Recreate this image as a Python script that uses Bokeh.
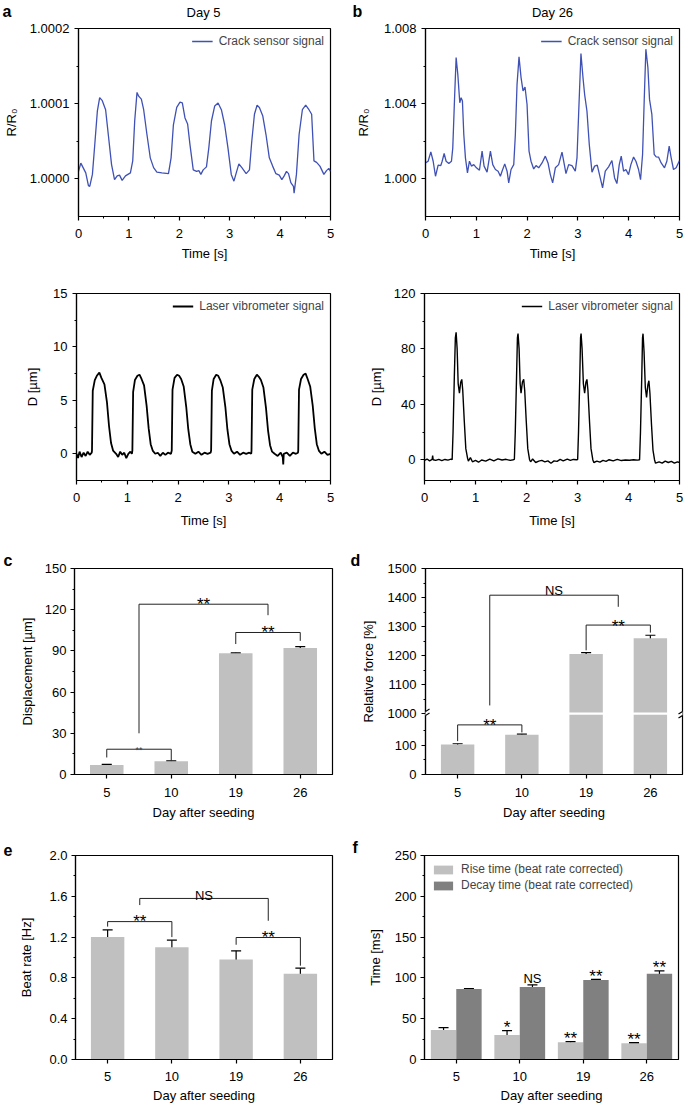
from bokeh.plotting import figure
from bokeh.layouts import column, row
from bokeh.models import (Range1d, FixedTicker, NumeralTickFormatter, Legend, LegendItem,
                          Label, Whisker, TeeHead, ColumnDataSource, Arrow)
from bokeh.embed import file_html
from bokeh.resources import INLINE

FONT = "Liberation Sans"
BLUE = "#3f51b5"
LIGHT = "#c0c0c0"
DARK = "#808080"

# ---------------- data ----------------
# (time [s], R/R0) crack sensor, day 5
a_crack = [
    (0.000, 1.000010), (0.046, 1.000021), (0.144, 1.000008), (0.197, 0.999991), (0.223, 0.999990),
    (0.276, 1.000006), (0.328, 1.000050), (0.374, 1.000090), (0.420, 1.000108), (0.472, 1.000104),
    (0.538, 1.000092), (0.591, 1.000059), (0.656, 1.000019), (0.715, 0.999999), (0.768, 1.000004),
    (0.814, 1.000005), (0.866, 0.999998), (0.932, 1.000004), (1.030, 1.000008), (1.076, 1.000024),
    (1.115, 1.000077), (1.161, 1.000115), (1.194, 1.000110), (1.247, 1.000106), (1.293, 1.000092),
    (1.358, 1.000059), (1.424, 1.000028), (1.490, 1.000015), (1.555, 1.000009), (1.654, 1.000008),
    (1.785, 1.000007), (1.837, 1.000028), (1.883, 1.000072), (1.949, 1.000095), (2.014, 1.000102),
    (2.060, 1.000101), (2.113, 1.000081), (2.165, 1.000073), (2.211, 1.000046), (2.277, 1.000012),
    (2.343, 1.000010), (2.388, 1.000011), (2.428, 1.000006), (2.474, 1.000012), (2.539, 1.000016),
    (2.585, 1.000041), (2.638, 1.000077), (2.703, 1.000097), (2.769, 1.000101), (2.835, 1.000092),
    (2.900, 1.000072), (2.966, 1.000041), (3.031, 1.000006), (3.084, 0.999997), (3.130, 1.000008),
    (3.182, 1.000020), (3.241, 1.000015), (3.327, 1.000007), (3.392, 1.000012), (3.438, 1.000050),
    (3.491, 1.000086), (3.543, 1.000098), (3.589, 1.000095), (3.655, 1.000084), (3.720, 1.000059),
    (3.786, 1.000028), (3.852, 1.000017), (3.917, 1.000007), (3.983, 1.000005), (4.035, 0.999999),
    (4.081, 1.000004), (4.127, 1.000010), (4.167, 1.000007), (4.213, 0.999995), (4.265, 0.999990),
    (4.278, 0.999981), (4.324, 1.000006), (4.377, 1.000059), (4.442, 1.000092), (4.508, 1.000098),
    (4.573, 1.000092), (4.626, 1.000086), (4.672, 1.000024), (4.724, 1.000022), (4.790, 1.000017),
    (4.869, 1.000006), (4.921, 1.000011), (4.967, 1.000014), (5.000, 1.000010)]

# (time [s], R/R0) crack sensor, day 26
b_crack = [
    (0.000, 1.00085), (0.052, 1.00094), (0.105, 1.00144), (0.151, 1.00094), (0.197, 1.00014),
    (0.249, 1.00073), (0.301, 1.00071), (0.328, 1.00094), (0.367, 1.00135), (0.406, 1.00094),
    (0.459, 1.00082), (0.511, 1.00094), (0.537, 1.00165), (0.570, 1.00414), (0.603, 1.00645),
    (0.636, 1.00556), (0.675, 1.00405), (0.701, 1.00432), (0.727, 1.00414), (0.754, 1.00236),
    (0.786, 1.00112), (0.826, 1.00032), (0.865, 1.00094), (0.904, 1.00068), (0.950, 1.00076),
    (1.003, 1.00059), (1.062, 1.00046), (1.114, 1.00148), (1.153, 1.00068), (1.212, 1.00036),
    (1.278, 1.00148), (1.324, 1.00076), (1.376, 1.00050), (1.429, 1.00041), (1.474, 1.00014),
    (1.507, 1.00041), (1.560, 1.00080), (1.606, 1.00041), (1.638, 0.99979), (1.684, 1.00050),
    (1.737, 1.00076), (1.769, 1.00236), (1.802, 1.00503), (1.841, 1.00649), (1.881, 1.00539),
    (1.920, 1.00468), (1.959, 1.00489), (1.999, 1.00396), (2.038, 1.00148), (2.077, 1.00094),
    (2.130, 1.00053), (2.176, 1.00071), (2.228, 1.00059), (2.294, 1.00085), (2.359, 1.00121),
    (2.412, 1.00085), (2.457, 1.00023), (2.503, 0.99979), (2.556, 1.00059), (2.621, 1.00076),
    (2.687, 1.00142), (2.733, 1.00076), (2.765, 1.00028), (2.818, 1.00076), (2.883, 1.00071),
    (2.949, 1.00041), (2.982, 1.00112), (3.014, 1.00343), (3.060, 1.00667), (3.100, 1.00539),
    (3.132, 1.00450), (3.178, 1.00361), (3.224, 1.00183), (3.277, 1.00036), (3.329, 1.00068),
    (3.381, 1.00073), (3.440, 1.00005), (3.486, 0.99952), (3.539, 1.00041), (3.604, 1.00064),
    (3.670, 1.00098), (3.722, 1.00005), (3.768, 0.99975), (3.814, 1.00076), (3.853, 1.00121),
    (3.899, 1.00041), (3.945, 1.00050), (3.997, 1.00023), (4.043, 1.00076), (4.096, 1.00116),
    (4.142, 1.00094), (4.194, 1.00050), (4.233, 0.99996), (4.273, 1.00130), (4.305, 1.00414),
    (4.338, 1.00690), (4.378, 1.00592), (4.410, 1.00423), (4.456, 1.00343), (4.502, 1.00130),
    (4.541, 1.00117), (4.587, 1.00116), (4.639, 1.00085), (4.705, 1.00059), (4.751, 1.00094),
    (4.797, 1.00174), (4.836, 1.00112), (4.882, 1.00050), (4.934, 1.00059), (5.000, 1.00098)]

# (time [s], D [um]) laser vibrometer, day 5
a_laser = [
    (0.00, 0.0), (0.03, -0.4), (0.06, 0.2), (0.10, -0.3), (0.14, 0.1), (0.18, -0.2), (0.22, 0.2),
    (0.26, -0.1), (0.30, 0.1), (0.305, 0.3), (0.32, 5.9), (0.36, 6.9), (0.40, 7.3), (0.45, 7.6),
    (0.49, 7.1), (0.55, 6.5), (0.60, 4.8), (0.64, 2.6), (0.68, 1.0), (0.72, 0.3), (0.78, 0.0),
    (0.82, -0.3), (0.86, 0.2), (0.90, -0.1), (0.94, 0.1), (0.98, -0.4), (1.02, 0.0), (1.06, 0.2),
    (1.09, 0.0), (1.10, 0.3), (1.115, 5.8), (1.15, 6.9), (1.20, 7.3), (1.24, 7.4), (1.28, 7.0),
    (1.33, 6.4), (1.38, 4.5), (1.42, 2.4), (1.46, 0.9), (1.50, 0.3), (1.55, 0.0), (1.60, 0.1),
    (1.65, -0.2), (1.70, 0.1), (1.75, -0.1), (1.80, 0.1), (1.86, 0.0), (1.875, 0.3), (1.89, 6.0),
    (1.93, 7.1), (1.98, 7.4), (2.02, 7.3), (2.06, 7.0), (2.11, 6.3), (2.16, 4.4), (2.20, 2.3),
    (2.24, 0.9), (2.28, 0.2), (2.34, 0.0), (2.40, 0.2), (2.46, -0.1), (2.52, 0.1), (2.58, 0.0),
    (2.64, 0.1), (2.65, 0.3), (2.665, 5.9), (2.70, 7.0), (2.75, 7.4), (2.79, 7.3), (2.83, 6.9),
    (2.88, 6.2), (2.93, 4.4), (2.97, 2.3), (3.01, 0.9), (3.05, 0.3), (3.10, 0.0), (3.16, 0.2),
    (3.22, -0.1), (3.28, 0.1), (3.34, 0.0), (3.40, 0.1), (3.44, 0.0), (3.445, 0.3), (3.46, 6.0),
    (3.50, 7.0), (3.55, 7.4), (3.59, 7.2), (3.63, 6.9), (3.68, 6.2), (3.73, 4.3), (3.77, 2.2),
    (3.81, 0.8), (3.85, 0.2), (3.90, 0.0), (3.96, -0.2), (4.02, 0.1), (4.06, -0.3), (4.07, -1.0),
    (4.08, 0.0), (4.14, 0.1), (4.20, -0.2), (4.26, 0.1), (4.32, 0.0), (4.36, 0.1), (4.365, 0.3),
    (4.38, 6.0), (4.42, 7.0), (4.47, 7.4), (4.51, 7.5), (4.55, 7.0), (4.60, 6.3), (4.65, 4.5),
    (4.69, 2.4), (4.73, 0.9), (4.77, 0.3), (4.82, 0.0), (4.88, 0.2), (4.94, -0.1), (5.00, 0.0)]

# (time [s], D [um]) laser vibrometer, day 26
b_laser = [
    (0.00, -0.5), (0.05, 0.5), (0.10, -0.8), (0.15, 0.2), (0.16, 3.0), (0.17, 0.0), (0.22, -0.5),
    (0.28, 0.3), (0.34, -0.6), (0.40, 0.2), (0.46, -0.3), (0.52, 0.4), (0.542, 0.0),
    (0.56, 20), (0.585, 60), (0.605, 88), (0.62, 92), (0.64, 80), (0.66, 55), (0.685, 48),
    (0.71, 56), (0.731, 58), (0.75, 50), (0.78, 28), (0.81, 8), (0.845, 1), (0.86, -1),
    (0.90, 1.5), (0.94, -1.5), (1.00, -0.5), (1.06, -1.8), (1.12, -0.2), (1.20, -1.0), (1.28, 0.5),
    (1.36, -0.8), (1.44, 0.6), (1.52, -0.2), (1.60, 0.3), (1.68, -0.5), (1.74, 0.0), (1.762, 0.2),
    (1.78, 20), (1.805, 60), (1.822, 88), (1.834, 91), (1.855, 80), (1.875, 55), (1.893, 48),
    (1.92, 56), (1.945, 58), (1.965, 50), (1.995, 28), (2.025, 8), (2.06, 0), (2.08, -1.5),
    (2.12, 0.5), (2.18, -2.0), (2.24, -1.0), (2.30, -0.5), (2.36, -1.5), (2.42, -0.8), (2.48, -2.5),
    (2.54, -0.8), (2.60, -1.2), (2.66, 0.2), (2.72, -0.8), (2.80, 0.5), (2.86, -0.5), (2.92, 0.2),
    (2.98, 0.0), (3.003, 0.2), (3.02, 20), (3.045, 60), (3.06, 88), (3.07, 91), (3.09, 80),
    (3.115, 55), (3.14, 48), (3.165, 56), (3.185, 58), (3.205, 50), (3.235, 28), (3.265, 8),
    (3.30, 0), (3.32, -2.0), (3.38, -1.0), (3.44, -1.8), (3.50, -0.5), (3.56, -1.2), (3.62, 0.0),
    (3.70, -0.8), (3.78, 0.3), (3.86, -0.6), (3.94, -0.2), (4.02, -0.4), (4.10, 0.0), (4.18, -0.3),
    (4.217, 0.0), (4.235, 20), (4.26, 60), (4.275, 88), (4.285, 91), (4.305, 78), (4.33, 52),
    (4.354, 45), (4.38, 54), (4.40, 57), (4.42, 48), (4.45, 26), (4.48, 7), (4.51, 0), (4.53, -2.5),
    (4.60, -1.5), (4.66, -2.5), (4.72, -1.0), (4.78, -2.0), (4.84, -1.2), (4.90, -2.5),
    (4.96, -1.5), (5.00, -2.0)]

days = ["5", "10", "19", "26"]
disp = [7.0, 9.6, 88.3, 92.2]
disp_err = [0.4, 0.4, 0.3, 0.9]
force = [103, 137, 1205, 1260]
force_err = [3, 2, 5, 10]
beat = [1.20, 1.10, 0.98, 0.84]
beat_err = [0.07, 0.07, 0.085, 0.055]
rise = [36, 30, 21, 20]
rise_err = [3, 5.5, 1.0, 0.6]
decay = [86.3, 88.7, 97.5, 105.0]
decay_err = [0.6, 2.8, 0.8, 3.5]

# significance brackets: (xs in category index, ys in data, text)
c_brackets = [([1, 1, 2, 2], [12.4, 18.4, 18.4, 10.5], "**"),
              ([1.5, 1.5, 3.5, 3.5], [30, 124, 124, 116], "**"),
              ([3, 3, 4, 4], [95, 103.4, 103.4, 97.3], "**")]
d_brackets = [([1, 1, 2, 2], [115, 171, 171, 145], "**"),
              ([1.5, 1.5, 3.5, 3.5], [1028, 1408, 1408, 1368], "NS"),
              ([3, 3, 4, 4], [1218, 1305, 1305, 1279], "**")]
e_brackets = [([1, 1, 2, 2], [1.303, 1.352, 1.352, 1.20], "**"),
              ([1.5, 1.5, 3.5, 3.5], [1.514, 1.579, 1.579, 1.36], "NS"),
              ([3, 3, 4, 4], [1.125, 1.196, 1.196, 0.92], "**")]
# marks above bars of panel f: (category index, series, text)
f_marks = [(2, "rise", "*"), (2, "decay", "NS"), (3, "rise", "**"), (3, "decay", "**"),
           (4, "rise", "**"), (4, "decay", "**")]

xpos = list(range(1, len(days) + 1))


def make_fig(w, h, bl, br, bt, bb, xr, yr):
    p = figure(width=w, height=h, x_range=Range1d(*xr), y_range=Range1d(*yr),
               output_backend="svg", toolbar_location=None,
               min_border_left=bl, min_border_right=br, min_border_top=bt, min_border_bottom=bb)
    p.xgrid.visible = False
    p.ygrid.visible = False
    p.outline_line_color = "black"
    p.outline_line_width = 1.2
    p.outline_line_alpha = 1.0
    p.background_fill_color = "white"
    p.border_fill_color = "white"
    for ax in (p.xaxis[0], p.yaxis[0]):
        ax.axis_line_color = "black"
        ax.axis_line_width = 1.2
        ax.major_tick_line_color = "black"
        ax.major_tick_line_width = 1.2
        ax.minor_tick_line_color = "black"
        ax.minor_tick_line_width = 1
        ax.major_tick_in = 0
        ax.major_tick_out = 4
        ax.minor_tick_in = 0
        ax.minor_tick_out = 2
        ax.major_label_text_font = FONT
        ax.major_label_text_font_size = "13px"
        ax.major_label_text_color = "black"
        ax.axis_label_text_font = FONT
        ax.axis_label_text_font_size = "13px"
        ax.axis_label_text_font_style = "normal"
        ax.axis_label_text_color = "black"
    return p


def header(w, h, letter_text, letter_x, day_text, day_x):
    # a strip with no axes and no title above the top panels: panel letter and day title
    p = figure(width=w, height=h, x_range=Range1d(0, w), y_range=Range1d(0, h), title=None,
               output_backend="svg", toolbar_location=None, x_axis_type=None, y_axis_type=None,
               min_border=0, min_border_left=0, min_border_right=0, min_border_top=0,
               min_border_bottom=0)
    p.outline_line_color = None
    p.background_fill_color = "white"
    p.border_fill_color = "white"
    p.add_layout(Label(x=letter_x, y=h - 11, text=letter_text, text_font=FONT, text_font_size="16px",
                       text_font_style="bold", text_align="left", text_baseline="alphabetic",
                       text_color="black"))
    p.add_layout(Label(x=day_x, y=h - 12, text=day_text, text_font=FONT, text_font_size="13px",
                       text_align="center", text_baseline="alphabetic", text_color="black"))
    return p


def set_axis(ax, label, ticks, minor, standoff, label_standoff, fmt=None, overrides=None):
    ax.axis_label = label
    ax.ticker = FixedTicker(ticks=ticks, minor_ticks=minor)
    ax.major_label_standoff = standoff
    ax.axis_label_standoff = label_standoff
    if fmt is not None:
        ax.formatter = NumeralTickFormatter(format=fmt)
    if overrides is not None:
        ax.major_label_overrides = overrides


def letter_title(p, text, offset):
    t = p.title
    t.text = text
    t.align = "left"
    t.offset = offset
    t.standoff = 0
    t.text_font = FONT
    t.text_font_size = "16px"
    t.text_font_style = "bold"
    t.text_color = "black"


def line_legend(p, r, text):
    leg = Legend(items=[LegendItem(label=text, renderers=[r])], location="top_right",
                 border_line_alpha=0, background_fill_alpha=0, label_text_font=FONT,
                 label_text_font_size="12px", glyph_width=21, glyph_height=12, label_height=12,
                 label_standoff=6, padding=4, margin=2, spacing=0)
    p.add_layout(leg)


def whiskers(p, xs, lows, ups, size=10):
    src = ColumnDataSource(dict(base=xs, lower=lows, upper=ups))
    p.add_layout(Whisker(base="base", lower="lower", upper="upper", source=src,
                         line_color="black", line_width=1.2,
                         upper_head=TeeHead(size=size, line_width=1.2, line_color="black"),
                         lower_head=TeeHead(size=size, line_width=1.2, line_color="black")))


def sig(p, x, y, text, dy=0):
    size = "13px" if text == "NS" else "17px"
    p.add_layout(Label(x=x, y=y, y_offset=dy, text=text, text_font=FONT, text_font_size=size,
                       text_align="center", text_baseline="alphabetic", text_color="black"))


def day_axis(p, standoff, label_standoff):
    set_axis(p.xaxis[0], "Day after seeding", xpos, [], standoff, label_standoff,
             overrides={i: d for i, d in zip(xpos, days)})


TIME_TICKS = [0, 1, 2, 3, 4, 5]
TIME_MINOR = [0.5, 1.5, 2.5, 3.5, 4.5]

# ---------------- headers of the top row ----------------
ha = header(345, 20, "a", 2, "Day 5", 203)
hb = header(340, 20, "b", 7, "Day 26", 207)

# ---------------- panel a (top): crack sensor, day 5 ----------------
pa1 = make_fig(345, 250, 76, 15, 8, 54, (0, 5), (0.99995, 1.0002))
r = pa1.line([t for t, _ in a_crack], [v for _, v in a_crack], line_color=BLUE, line_width=1.3)
set_axis(pa1.xaxis[0], "Time [s]", TIME_TICKS, TIME_MINOR, 8, 5)
set_axis(pa1.yaxis[0], "R/R₀", [1.0, 1.0001, 1.0002], [1.00005, 1.00015], 5, 8, fmt="0.0000")
line_legend(pa1, r, "Crack sensor signal")

# ---------------- panel b (top): crack sensor, day 26 ----------------
pb1 = make_fig(340, 250, 80, 6, 8, 54, (0, 5), (0.998, 1.008))
r = pb1.line([t for t, _ in b_crack], [v for _, v in b_crack], line_color=BLUE, line_width=1.3)
set_axis(pb1.xaxis[0], "Time [s]", TIME_TICKS, TIME_MINOR, 8, 5)
set_axis(pb1.yaxis[0], "R/R₀", [1.0, 1.004, 1.008], [1.002, 1.006], 5, 10, fmt="0.000")
line_legend(pb1, r, "Crack sensor signal")

# ---------------- panel a (bottom): laser, day 5 ----------------
pa2 = make_fig(345, 260, 76, 15, 23, 50, (0, 5), (-2.5, 15))
r = pa2.line([t for t, _ in a_laser], [v for _, v in a_laser], line_color="black", line_width=1.8)
set_axis(pa2.xaxis[0], "Time [s]", TIME_TICKS, TIME_MINOR, 8, 8)
set_axis(pa2.yaxis[0], "D [µm]", [0, 5, 10, 15], [2.5, 7.5, 12.5], 5, 10)
line_legend(pa2, r, "Laser vibrometer signal")

# ---------------- panel b (bottom): laser, day 26 ----------------
pb2 = make_fig(340, 260, 79, 6, 23, 50, (0, 5), (-15, 120))
r = pb2.line([t for t, _ in b_laser], [v for _, v in b_laser], line_color="black", line_width=1.4)
set_axis(pb2.xaxis[0], "Time [s]", TIME_TICKS, TIME_MINOR, 8, 8)
set_axis(pb2.yaxis[0], "D [µm]", [0, 40, 80, 120], [20, 60, 100], 5, 7)
line_legend(pb2, r, "Laser vibrometer signal")

# ---------------- panel c: displacement ----------------
pc = make_fig(345, 300, 74, 13, 38, 56, (0.5, 4.5), (0, 150))
pc.vbar(x=xpos, top=disp, width=0.52, fill_color=LIGHT, line_color=None)
whiskers(pc, xpos, [v - e for v, e in zip(disp, disp_err)], [v + e for v, e in zip(disp, disp_err)])
pc.multi_line([b[0] for b in c_brackets], [b[1] for b in c_brackets], line_color="#222222", line_width=1)
for i, (bx, by, txt) in enumerate(c_brackets):
    if i == 0:
        pc.add_layout(Label(x=(bx[1] + bx[2]) / 2, y=by[1], y_offset=-1, text=txt, text_font=FONT,
                            text_font_size="9px", text_align="center", text_baseline="alphabetic"))
    else:
        sig(pc, (bx[1] + bx[2]) / 2, by[1], txt)
day_axis(pc, 9, 5)
set_axis(pc.yaxis[0], "Displacement [µm]", [0, 30, 60, 90, 120, 150], [15, 45, 75, 105, 135], 4, 7)
letter_title(pc, "c", -71)

# ---------------- panel d: relative force (broken axis) ----------------
BREAK_LO, BREAK_HI = 210, 1000   # lower segment ends at 210, upper segment starts at 1000


def fy(v):
    return v if v <= BREAK_LO + 50 else v - (BREAK_HI - BREAK_LO)


pd = make_fig(340, 300, 80, 3, 38, 56, (0.5, 4.5), (0, fy(1500)))
pd.vbar(x=xpos, top=[fy(v) for v in force], width=0.52, fill_color=LIGHT, line_color=None)
big = [x for x, v in zip(xpos, force) if v > BREAK_HI]
pd.segment(x0=[x - 0.27 for x in big], x1=[x + 0.27 for x in big], y0=[BREAK_LO] * len(big),
           y1=[BREAK_LO] * len(big), line_color="white", line_width=2.2)
whiskers(pd, xpos, [fy(v - e) for v, e in zip(force, force_err)],
         [fy(v + e) for v, e in zip(force, force_err)])
pd.multi_line([b[0] for b in d_brackets], [[fy(v) for v in b[1]] for b in d_brackets],
              line_color="#222222", line_width=1)
for bx, by, txt in d_brackets:
    sig(pd, (bx[1] + bx[2]) / 2, fy(by[1]), txt, 5 if txt == "NS" else -1)
day_axis(pd, 9, 5)
dticks_real = [0, 100, 1000, 1100, 1200, 1300, 1400, 1500]
dminor_real = [50, 150, 1050, 1150, 1250, 1350, 1450]
set_axis(pd.yaxis[0], "Relative force [%]", [fy(v) for v in dticks_real], [fy(v) for v in dminor_real],
         5, 9, overrides={fy(v): str(v) for v in dticks_real})
# axis break marks
ux = 4.0 / 257.0
uy = fy(1500) / 206.0
for xb in (0.5, 4.5):
    pd.add_layout(Arrow(start=None, end=None, x_start=xb, y_start=BREAK_LO - 2 * uy, x_end=xb,
                        y_end=BREAK_LO + 2 * uy, line_color="white", line_width=3))
    for dd in (-2, 2):
        pd.add_layout(Arrow(start=None, end=None, x_start=xb - 4 * ux, y_start=BREAK_LO + (dd - 2.5) * uy,
                            x_end=xb + 4 * ux, y_end=BREAK_LO + (dd + 2.5) * uy,
                            line_color="black", line_width=1.2))
letter_title(pd, "d", -75)

# ---------------- panel e: beat rate ----------------
pe = make_fig(345, 276, 75, 13, 25, 47, (0.5, 4.5), (0, 2.0))
pe.vbar(x=xpos, top=beat, width=0.52, fill_color=LIGHT, line_color=None)
whiskers(pe, xpos, [v - e for v, e in zip(beat, beat_err)], [v + e for v, e in zip(beat, beat_err)])
pe.multi_line([b[0] for b in e_brackets], [b[1] for b in e_brackets], line_color="#222222", line_width=1)
for bx, by, txt in e_brackets:
    sig(pe, (bx[1] + bx[2]) / 2, by[1], txt, 3 if txt == "NS" else 0)
day_axis(pe, 8, 4)
set_axis(pe.yaxis[0], "Beat rate [Hz]", [0, 0.4, 0.8, 1.2, 1.6, 2.0], [0.2, 0.6, 1.0, 1.4, 1.8], 4, 12,
         fmt="0.0")
letter_title(pe, "e", -72)

# ---------------- panel f: rise / decay time ----------------
pf = make_fig(340, 276, 79, 7, 25, 47, (0.5, 4.5), (0, 250))
rx = [x - 0.2 for x in xpos]
dx = [x + 0.2 for x in xpos]
r1 = pf.vbar(x=rx, top=rise, width=0.4, fill_color=LIGHT, line_color=None)
r2 = pf.vbar(x=dx, top=decay, width=0.4, fill_color=DARK, line_color=None)
whiskers(pf, rx, [v - e for v, e in zip(rise, rise_err)], [v + e for v, e in zip(rise, rise_err)])
whiskers(pf, dx, [v - e for v, e in zip(decay, decay_err)], [v + e for v, e in zip(decay, decay_err)])
for idx, series, txt in f_marks:
    k = idx - 1
    if series == "rise":
        x, y = rx[k], rise[k] + rise_err[k]
    else:
        x, y = dx[k], decay[k] + decay_err[k]
    sig(pf, x, y, txt, 6 if txt == "NS" else 3)
legf = Legend(items=[LegendItem(label="Rise time (beat rate corrected)", renderers=[r1]),
                     LegendItem(label="Decay time (beat rate corrected)", renderers=[r2])],
              location="top_left", border_line_alpha=0, background_fill_alpha=0,
              label_text_font=FONT, label_text_font_size="12px", glyph_width=24, glyph_height=11,
              label_height=13, label_standoff=6, padding=2, margin=5, spacing=2)
pf.add_layout(legf)
day_axis(pf, 8, 4)
set_axis(pf.yaxis[0], "Time [ms]", [0, 50, 100, 150, 200, 250], [25, 75, 125, 175, 225], 4, 9)
letter_title(pf, "f", -72)

layout = column(row(ha, hb), row(pa1, pb1), row(pa2, pb2), row(pc, pd), row(pe, pf))

with open("out.html", "w") as fh:
    fh.write(file_html(layout, INLINE))
